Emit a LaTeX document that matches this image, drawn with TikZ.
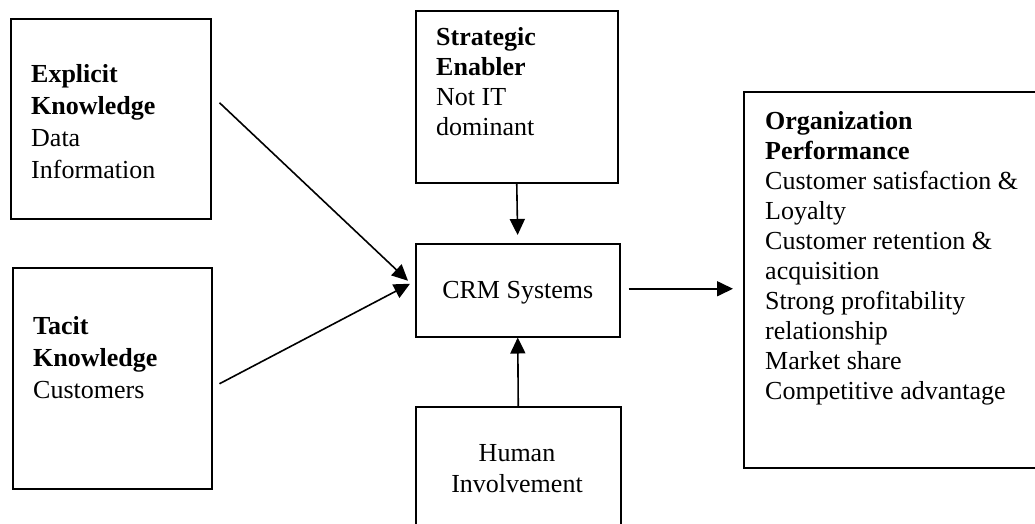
\documentclass[tikz,border=0pt]{standalone}
\usepackage{fontspec}
\setmainfont{Liberation Serif}
\usetikzlibrary{arrows.meta,calc}
\begin{document}
\begin{tikzpicture}[x=1pt,y=-1pt,
  box/.style={draw,line width=1.5pt,inner sep=0pt,anchor=north west},
  txt/.style={inner sep=0pt,anchor=north west,align=left,font=\fontsize{26}{30}\selectfont},
  wtxt/.style={txt,font=\fontsize{26}{32}\selectfont},
  ctxt/.style={inner sep=0pt,align=center,font=\fontsize{26}{31}\selectfont},
  arr/.style={line width=1.6pt,-{Triangle[length=16pt,width=15pt]}}]
\useasboundingbox (0,0) rectangle (1035,523);
\clip (0,0) rectangle (1035,523);
% boxes
\node[box,minimum width=200pt,minimum height=200pt] (exp) at (10,18) {};
\node[box,minimum width=199pt,minimum height=221pt] (tac) at (12,267) {};
\node[box,minimum width=202pt,minimum height=172pt] (str) at (415,10) {};
\node[box,minimum width=204pt,minimum height=93pt] (crm) at (415,243) {};
\node[box,minimum width=205pt,minimum height=140pt] (hum) at (415,406) {};
\node[box,minimum width=320pt,minimum height=376pt] (org) at (743,91) {};
% texts
\node[wtxt] (expt) at ($(exp.north west)+(21,46)$) {\textbf{Explicit}\\\textbf{Knowledge}\\Data\\Information};
\node[wtxt] (tact) at ($(tac.north west)+(21,49)$) {\textbf{Tacit}\\\textbf{Knowledge}\\Customers};
\node[txt] (strt) at ($(str.north west)+(21,17)$) {\textbf{Strategic}\\\textbf{Enabler}\\Not IT\\dominant};
\node[ctxt] (crmt) at ($(crm.center)+(0,2)$) {CRM Systems};
\node[ctxt] (humt) at (517,469) {Human\\Involvement};
\node[txt] (orgt) at ($(org.north west)+(22,20)$) {\textbf{Organization}\\\textbf{Performance}\\Customer satisfaction \&\\Loyalty\\Customer retention \&\\acquisition\\Strong profitability\\relationship\\Market share\\Competitive advantage};
% connectors
\draw[arr] ($(exp.east)+(8,-16)$) -- ($(crm.west)+(-7,-9.5)$);
\draw[arr] ($(tac.east)+(7,5.5)$) -- ($(crm.west)+(-5,-6.5)$);
\draw[arr,shorten >=8pt] (str.south) -- (crm.north);
\draw[arr] (hum.north) -- (crm.south);
\draw[arr] ($(crm.east)+(8,-1.5)$) -- ($(org.west |- crm.east)+(-10,-1.5)$);
\end{tikzpicture}
\end{document}
